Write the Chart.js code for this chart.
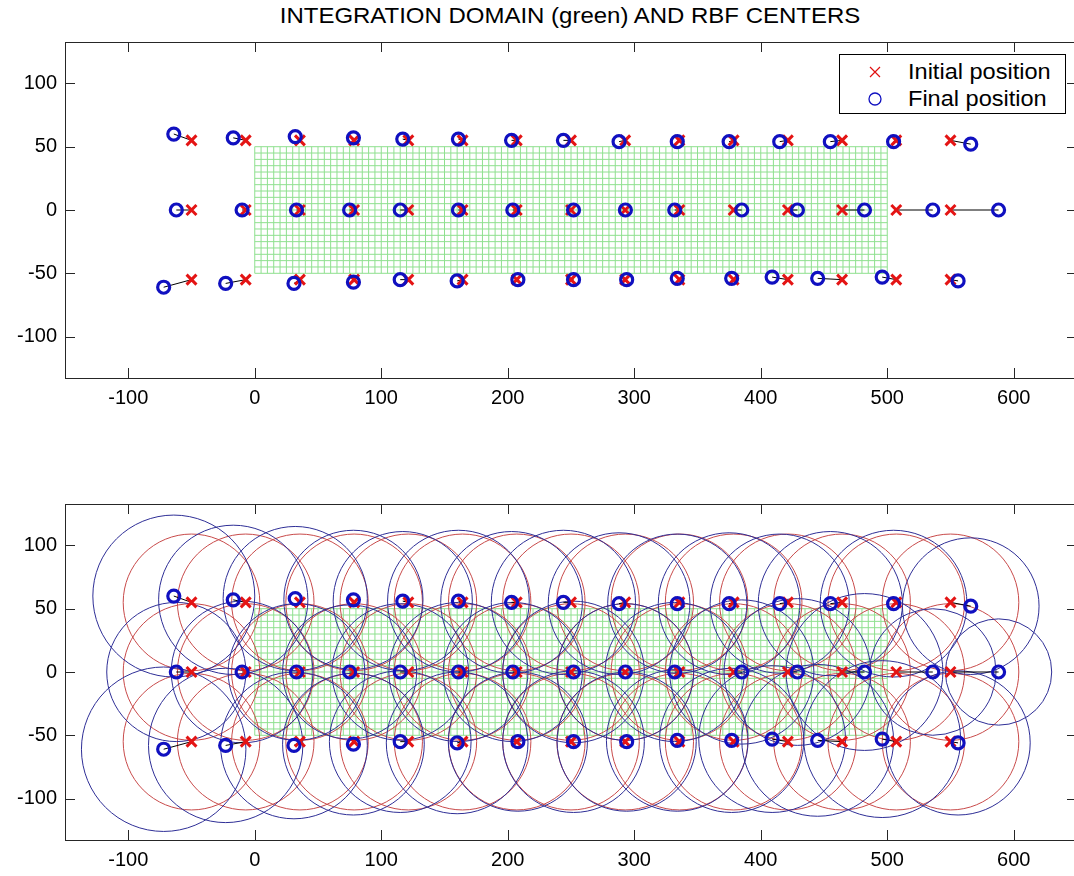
<!DOCTYPE html>
<html><head><meta charset="utf-8">
<script src="https://cdn.jsdelivr.net/npm/chart.js@4.4.1/dist/chart.umd.min.js"></script>
<style>
html,body{margin:0;padding:0;background:#fff;overflow:hidden;width:1074px;height:876px;}
#title{position:absolute;left:0;top:3px;width:1140px;text-align:center;font:22px "Liberation Sans",Arial,sans-serif;color:#000;white-space:nowrap;transform:scaleX(1.09);transform-origin:570px 0;}
.wrap{position:absolute;left:0;width:1146px;height:418px;}
#legend{position:absolute;left:839px;top:54px;width:225px;height:58px;border:1px solid #000;background:#fff;font:22px "Liberation Sans",Arial,sans-serif;color:#000;}
#legend .row{position:absolute;left:0;height:26px;line-height:26px;width:225px;}
#legend svg{position:absolute;left:27px;top:5px;}
#legend span{position:absolute;left:68px;top:0;white-space:nowrap;transform:scaleX(1.07);transform-origin:0 0;}
</style></head>
<body>
<div id="title">INTEGRATION DOMAIN (green) AND RBF CENTERS</div>
<div class="wrap" style="top:0"><canvas id="c1" width="1146" height="418"></canvas></div>
<div class="wrap" style="top:462px"><canvas id="c2" width="1146" height="418"></canvas></div>
<div id="legend">
  <div class="row" style="top:4px"><svg width="16" height="16"><path d="M3 3 L13 13 M13 3 L3 13" stroke="#e01010" stroke-width="1.2" fill="none"/></svg><span>Initial position</span></div>
  <div class="row" style="top:31px"><svg width="16" height="16"><circle cx="8" cy="8" r="6" stroke="#1010c0" stroke-width="1.3" fill="none"/></svg><span>Final position</span></div>
</div>
<script>
// ---- data ----
const xTickValues = [-100, 0, 100, 200, 300, 400, 500, 600];
const yTickValues = [-100, -50, 0, 50, 100];
const domainX = [0, 500];
const domainY = [-50, 50];
const meshStep = 5;

const initX = [-50, -7.14, 35.71, 78.57, 121.43, 164.29, 207.14, 250, 292.86, 335.71, 378.57, 421.43, 464.29, 507.14, 550];
const initRowY = [55, 0, -55];

const finalXTop = [-64, -17, 32, 78, 117, 161, 203, 244, 288, 334, 375, 415, 455, 505, 566];
const finalYTop = [60, 57, 58, 57, 56, 56, 55, 55, 54, 54, 54, 54, 54, 54, 52];
const finalXMid = [-62, -10, 33, 75, 115, 161, 204, 252, 293, 332, 385, 429, 482, 536, 588];
const finalYMid = [0, 0, 0, 0, 0, 0, 0, 0, 0, 0, 0, 0, 0, 0, 0];
const finalXBot = [-72, -23, 31, 78, 115, 160, 208, 252, 294, 334, 377, 409, 445, 496, 556];
const finalYBot = [-61, -58, -58, -57, -55, -56, -55, -55, -55, -54, -54, -53, -54, -53, -56];

const radiusInit = 54;
const radiusFinalTop = [64, 59, 57, 55, 55, 56, 56, 57, 56, 55, 56, 55, 57, 58, 54];
const radiusFinalMid = [55, 56, 54, 53, 54, 55, 55, 56, 54, 55, 57, 58, 62, 50, 42];
const radiusFinalBot = [65, 61, 58, 56, 56, 56, 55, 56, 55, 56, 57, 58, 60, 62, 57];

// ---- build point lists ----
const finalRows = [
  {x: finalXTop, y: finalYTop, r: radiusFinalTop},
  {x: finalXMid, y: finalYMid, r: radiusFinalMid},
  {x: finalXBot, y: finalYBot, r: radiusFinalBot}
];
const initPts = [], finalPts = [], links = [];
initRowY.forEach((ry, k) => {
  initX.forEach((ix, i) => {
    const row = finalRows[k];
    initPts.push({x: ix, y: ry, r: radiusInit});
    finalPts.push({x: row.x[i], y: row.y[i], r: row.r[i]});
    links.push({x: ix, y: ry}, {x: row.x[i], y: row.y[i]}, {x: row.x[i], y: null});
  });
});
const mesh = [];
for (let gx = domainX[0]; gx <= domainX[1] + 1e-9; gx += meshStep) {
  mesh.push({x: gx, y: domainY[0]}, {x: gx, y: domainY[1]}, {x: gx, y: null});
}
for (let gy = domainY[0]; gy <= domainY[1] + 1e-9; gy += meshStep) {
  mesh.push({x: domainX[0], y: gy}, {x: domainX[1], y: gy}, {x: domainX[1], y: null});
}

const FONT = {family: '"Liberation Sans", Arial, sans-serif', size: 20};

const boxPlugin = {
  id: 'box',
  afterDatasetsDraw(chart) {
    const {ctx, chartArea: a, scales: {x, y}} = chart;
    ctx.save();
    ctx.strokeStyle = '#262626';
    ctx.lineWidth = 1;
    ctx.strokeRect(Math.round(a.left) + 0.5, Math.round(a.top) + 0.5, Math.round(a.right - a.left), Math.round(a.bottom - a.top));
    ctx.beginPath();
    const L = 10;
    x.ticks.forEach(t => {
      const p = Math.round(x.getPixelForValue(t.value)) + 0.5;
      ctx.moveTo(p, a.bottom); ctx.lineTo(p, a.bottom - L);
      ctx.moveTo(p, a.top); ctx.lineTo(p, a.top + L);
    });
    y.ticks.forEach(t => {
      const p = Math.round(y.getPixelForValue(t.value)) + 0.5;
      ctx.moveTo(a.left, p); ctx.lineTo(a.left + L, p);
      ctx.moveTo(a.right, p); ctx.lineTo(a.right - L, p);
    });
    ctx.stroke();
    ctx.restore();
  }
};

function radiusPx(c) {
  if (!c.raw) return 0;
  const s = c.chart.scales.x;
  return Math.abs(s.getPixelForValue(c.raw.r) - s.getPixelForValue(0));
}

function makeChart(id, withCircles) {
  const datasets = [
    {label: 'mesh', data: mesh, showLine: true, borderColor: '#8fe08f', borderWidth: 1, pointRadius: 0, order: 100},
    {label: 'links', data: links, showLine: true, borderColor: '#000', borderWidth: 1, pointRadius: 0, order: 50},
    {label: 'Initial position', data: initPts, pointStyle: 'crossRot', pointRadius: 7, borderWidth: 3, borderColor: '#e41414', backgroundColor: '#e41414', order: 40},
    {label: 'Final position', data: finalPts, pointStyle: 'circle', pointRadius: 6, borderWidth: 3.2, borderColor: '#1010c0', backgroundColor: 'rgba(0,0,0,0)', order: 30}
  ];
  if (withCircles) {
    datasets.push(
      {label: 'initR', data: initPts, pointStyle: 'circle', pointRadius: radiusPx, borderWidth: 1, borderColor: '#c84a4a', backgroundColor: 'rgba(0,0,0,0)', order: 90},
      {label: 'finalR', data: finalPts, pointStyle: 'circle', pointRadius: radiusPx, borderWidth: 1, borderColor: '#2e2e96', backgroundColor: 'rgba(0,0,0,0)', order: 85}
    );
  }
  return new Chart(document.getElementById(id), {
    type: 'scatter',
    data: {datasets},
    options: {
      responsive: false,
      animation: false,
      events: [],
      layout: {padding: {top: 42, right: 69, left: 0, bottom: 0}},
      plugins: {legend: {display: false}, tooltip: {enabled: false}, title: {display: false}},
      scales: {
        x: {
          type: 'linear', min: -150, max: 650,
          afterBuildTicks: s => { s.ticks = xTickValues.map(v => ({value: v})); },
          afterFit: s => { s.height = 40; },
          grid: {display: false, drawTicks: false},
          border: {display: false},
          ticks: {color: '#000', font: FONT, padding: 8, maxRotation: 0, autoSkip: false}
        },
        y: {
          type: 'linear', min: -132.7, max: 132.7,
          afterBuildTicks: s => { s.ticks = yTickValues.map(v => ({value: v})); },
          afterFit: s => { s.width = 65; },
          grid: {display: false, drawTicks: false},
          border: {display: false},
          ticks: {color: '#000', font: FONT, padding: 8, autoSkip: false}
        }
      }
    },
    plugins: [boxPlugin]
  });
}
makeChart('c1', false);
makeChart('c2', true);
</script>
</body></html>
